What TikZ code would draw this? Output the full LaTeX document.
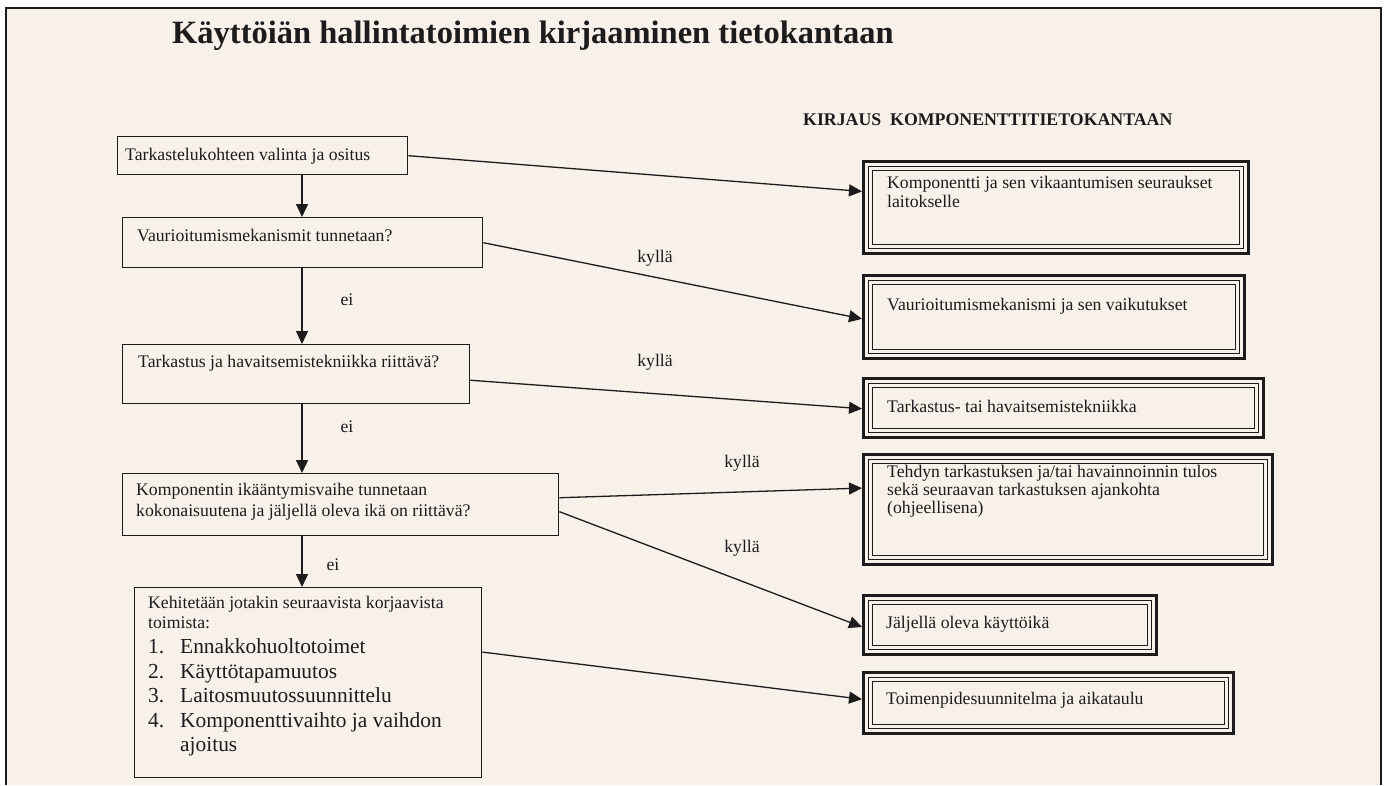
\documentclass[tikz,border=0pt]{standalone}
\usepackage{fontspec}
\setmainfont{Liberation Serif}
\usetikzlibrary{arrows.meta,calc}
\definecolor{paper}{RGB}{248,241,234}
\definecolor{ink}{RGB}{28,28,28}

\begin{document}
\begin{tikzpicture}[x=1pt,y=-1pt,
  lbox/.style={draw=ink, line width=1.4pt, inner sep=0pt, anchor=north west},
  rbox/.style={draw=ink, line width=3.2pt, inner sep=0pt, anchor=north west,
    path picture={
      \draw[ink, line width=1.2pt]
        ([shift={(5.2pt,-5.2pt)}]path picture bounding box.north west) rectangle
        ([shift={(-5.2pt,5.2pt)}]path picture bounding box.south east);
      \draw[ink, line width=1.1pt]
        ([shift={(9pt,-9pt)}]path picture bounding box.north west) rectangle
        ([shift={(-9pt,9pt)}]path picture bounding box.south east);
    }},
  txt/.style={inner sep=0pt, anchor=base west, text=ink, font=\fontsize{17.7}{21}\selectfont},
  big/.style={inner sep=0pt, anchor=base west, text=ink, font=\fontsize{21.4}{24}\selectfont},
  lab/.style={inner sep=0pt, anchor=center, text=ink, font=\fontsize{17.7}{21}\selectfont},
  flow/.style={draw=ink, line width=1.3pt, -{Triangle[length=13pt,width=12pt]}},
]
% page and frame
\useasboundingbox (0,0) rectangle (1385,785);
\fill[white] (0,0) rectangle (1385,785);
\fill[paper] (6,8) rectangle (1381,785);
\draw[ink, line width=1.5pt] (6,785) -- (6,8) -- (1381,8) -- (1381,785);

% headings
\node[inner sep=0pt, anchor=base west, text=ink, font=\fontsize{32.5}{38}\selectfont\bfseries]
  (title) at (172,43) {Käyttöiän hallintatoimien kirjaaminen tietokantaan};
\node[inner sep=0pt, anchor=base west, text=ink, font=\fontsize{17.8}{20}\selectfont\bfseries]
  (dbhead) at (803,125) {KIRJAUS\ \ KOMPONENTTITIETOKANTAAN};

% decision chain (left)
\node[lbox, minimum width=290pt, minimum height=38pt]  (b1) at (117,136) {};
\node[lbox, minimum width=360pt, minimum height=50pt]  (b2) at (122,217) {};
\node[lbox, minimum width=347pt, minimum height=59pt]  (b3) at (122,344) {};
\node[lbox, minimum width=436pt, minimum height=62pt]  (b4) at (122,473) {};
\node[lbox, minimum width=347pt, minimum height=190pt] (b5) at (134,587) {};

\node[txt] (t1) at (125,160) {Tarkastelukohteen valinta ja ositus};
\node[txt] (t2) at (137,241) {Vaurioitumismekanismit tunnetaan?};
\node[txt] (t3) at (138,367) {Tarkastus ja havaitsemistekniikka riittävä?};
\node[txt] (t4a) at (136,495) {Komponentin ikääntymisvaihe tunnetaan};
\node[txt] (t4b) at (136,516) {kokonaisuutena ja jäljellä oleva ikä on riittävä?};
\node[txt] (t5a) at (148,608) {Kehitetään jotakin seuraavista korjaavista};
\node[txt] (t5b) at (148,628) {toimista:};
\node[big] (n1) at (148,653) {1.};
\node[big] (i1) at (180,653) {Ennakkohuoltotoimet};
\node[big] (n2) at (148,678) {2.};
\node[big] (i2) at (180,678) {Käyttötapamuutos};
\node[big] (n3) at (148,702) {3.};
\node[big] (i3) at (180,702) {Laitosmuutossuunnittelu};
\node[big] (n4) at (148,727) {4.};
\node[big] (i4) at (180,727) {Komponenttivaihto ja vaihdon};
\node[big] (i4b) at (180,751) {ajoitus};

% database records (right)
\node[rbox, minimum width=385pt, minimum height=92pt]  (r1) at (862,160) {};
\node[rbox, minimum width=381pt, minimum height=83pt]  (r2) at (862,274) {};
\node[rbox, minimum width=400pt, minimum height=59pt]  (r3) at (862,377) {};
\node[rbox, minimum width=409pt, minimum height=110pt] (r4) at (862,453) {};
\node[rbox, minimum width=293pt, minimum height=59pt]  (r5) at (862,594) {};
\node[rbox, minimum width=370pt, minimum height=61pt]  (r6) at (862,671) {};

\node[txt] (s1a) at (887,188) {Komponentti ja sen vikaantumisen seuraukset};
\node[txt] (s1b) at (887,207) {laitokselle};
\node[txt] (s2) at (887,310) {Vaurioitumismekanismi ja sen vaikutukset};
\node[txt] (s3) at (887,412) {Tarkastus- tai havaitsemistekniikka};
\node[txt] (s4a) at (887,477) {Tehdyn tarkastuksen ja/tai havainnoinnin tulos};
\node[txt] (s4b) at (887,495) {sekä seuraavan tarkastuksen ajankohta};
\node[txt] (s4c) at (887,513) {(ohjeellisena)};
\node[txt] (s5) at (886,628) {Jäljellä oleva käyttöikä};
\node[txt] (s6) at (886,704) {Toimenpidesuunnitelma ja aikataulu};

% vertical "ei" path
\coordinate (spine) at (302,0);
\draw[flow] (b1.south -| spine) -- (b2.north -| spine);
\draw[flow] (b2.south -| spine) -- (b3.north -| spine);
\draw[flow] (b3.south -| spine) -- (b4.north -| spine);
\draw[flow] (b4.south -| spine) -- (b5.north -| spine);
\node[lab] (ei1) at (347,300) {ei};
\node[lab] (ei2) at (347,427) {ei};
\node[lab] (ei3) at (333,565) {ei};

% "kyllä" branches and records
\draw[flow] (b1.east) -- ($(r1.north west)!0.33!(r1.south west)$);
\draw[flow] (b2.east) -- ($(r2.north west)!0.52!(r2.south west)$);
\draw[flow] ($(b3.north east)!0.6!(b3.south east)$) -- ($(r3.north west)!0.51!(r3.south west)$);
\draw[flow] ($(b4.north east)!0.39!(b4.south east)$) -- ($(r4.north west)!0.31!(r4.south west)$);
\draw[flow] ($(b4.north east)!0.61!(b4.south east)$) -- ($(r5.north west)!0.53!(r5.south west)$);
\draw[flow] ($(b5.north east)!0.34!(b5.south east)$) -- ($(r6.north west)!0.44!(r6.south west)$);
\node[lab] (k1) at (655,258) {kyllä};
\node[lab] (k2) at (655,362) {kyllä};
\node[lab] (k3) at (742,463) {kyllä};
\node[lab] (k4) at (742,548) {kyllä};
\end{tikzpicture}
\end{document}
